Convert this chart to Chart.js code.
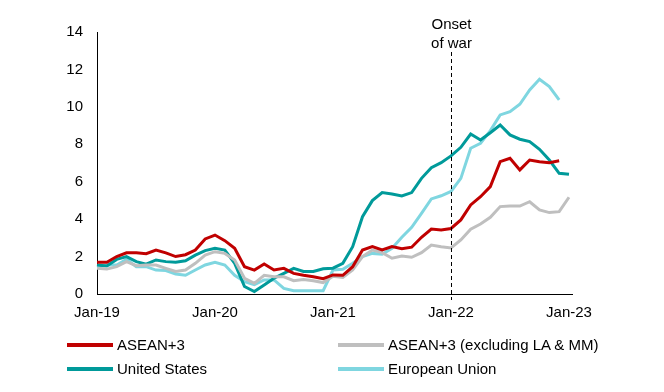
<!DOCTYPE html>
<html>
<head>
<meta charset="utf-8">
<script src="https://cdn.jsdelivr.net/npm/chart.js@4"></script>
<style>
  body { margin: 0; background: #fff; }
  #wrap { position: relative; width: 664px; height: 392px; font-family: "Liberation Sans", Arial, sans-serif; }
  .legend { position: absolute; font-size: 15px; line-height: 18px; height: 18px; color: #000; display: flex; align-items: center; white-space: nowrap; }
  .legend span.sw { display: inline-block; width: 46px; height: 4px; margin-right: 4px; }
</style>
</head>
<body>
<div id="wrap">
  <canvas id="chart" width="664" height="392"></canvas>
  <div class="legend" style="left:67px; top:336px"><span class="sw" style="background:#C00000"></span>ASEAN+3</div>
  <div class="legend" style="left:338px; top:336px"><span class="sw" style="background:#BFBFBF"></span>ASEAN+3 (excluding LA &amp; MM)</div>
  <div class="legend" style="left:67px; top:360px"><span class="sw" style="background:#009A9A"></span>United States</div>
  <div class="legend" style="left:338px; top:360px"><span class="sw" style="background:#7FD6E0"></span>European Union</div>
</div>
<script>
// monthly, Jan-19 .. Jan-23
const months = [];
const monthNames = ["Jan","Feb","Mar","Apr","May","Jun","Jul","Aug","Sep","Oct","Nov","Dec"];
for (let y = 19; y <= 23; y++) {
  for (let m = 0; m < 12; m++) {
    if (y === 23 && m > 0) break;
    months.push(monthNames[m] + "-" + y);
  }
}

const asean3 = [1.7, 1.7, 2.0, 2.2, 2.2, 2.15, 2.35, 2.2, 2.0, 2.1, 2.35, 2.94,
  3.15, 2.85, 2.44, 1.46, 1.28, 1.6, 1.28, 1.37, 1.1, 1.0, 0.92, 0.82,
  1.02, 1.0, 1.46, 2.35, 2.53, 2.35, 2.53, 2.42, 2.5, 3.03, 3.47, 3.42,
  3.5, 3.96, 4.76, 5.2, 5.74, 7.07, 7.25, 6.63, 7.16, 7.07, 7.02, 7.12, null];

const asean3ExLaMm = [1.37, 1.33, 1.46, 1.73, 1.51, 1.55, 1.55, 1.37, 1.2, 1.28, 1.64, 2.08,
  2.26, 2.17, 1.82, 0.84, 0.57, 1.0, 0.92, 0.92, 0.71, 0.78, 0.71, 0.61,
  0.95, 0.89, 1.28, 2.0, 2.35, 2.21, 1.91, 2.03, 1.96, 2.21, 2.62, 2.53,
  2.46, 2.89, 3.46, 3.74, 4.1, 4.67, 4.7, 4.7, 4.93, 4.49, 4.35, 4.4, 5.17];

const unitedStates = [1.55, 1.5, 1.85, 2.0, 1.73, 1.59, 1.82, 1.73, 1.7, 1.78, 2.08, 2.32,
  2.44, 2.35, 1.64, 0.4, 0.13, 0.48, 0.84, 1.1, 1.37, 1.2, 1.2, 1.35,
  1.38, 1.64, 2.53, 4.13, 4.99, 5.42, 5.34, 5.24, 5.42, 6.18, 6.75, 7.02,
  7.38, 7.84, 8.55, 8.23, 8.62, 9.03, 8.5, 8.27, 8.14, 7.73, 7.16, 6.45, 6.4];

const europeanUnion = [1.46, 1.55, 1.55, 1.85, 1.46, 1.46, 1.28, 1.25, 1.07, 1.0, 1.28, 1.55,
  1.69, 1.55, 1.0, 0.66, 0.5, 0.75, 0.75, 0.3, 0.18, 0.18, 0.18, 0.18,
  1.28, 1.32, 1.64, 2.0, 2.17, 2.12, 2.44, 3.03, 3.56, 4.31, 5.08, 5.25,
  5.48, 6.18, 7.79, 8.05, 8.73, 9.57, 9.74, 10.14, 10.9, 11.47, 11.08, 10.37, null];

const yTicks = [0, 2, 4, 6, 8, 10, 12, 14];
const warIndex = 36; // Jan-22 position on the chart
const warLabel = ["Onset", "of war"];

const FONT = "'Liberation Sans', Arial, sans-serif";

// dashed marker + label, drawn on top of the lines
const warLine = {
  id: "warLine",
  afterDatasetsDraw(chart) {
    const { ctx, scales } = chart;
    const x = Math.round(scales.x.getPixelForValue(warIndex)) + 0.5;
    const bottom = scales.y.getPixelForValue(0);
    ctx.save();
    ctx.strokeStyle = "#000";
    ctx.lineWidth = 1;
    ctx.setLineDash([4, 3]);
    ctx.beginPath();
    ctx.moveTo(x, 52);
    ctx.lineTo(x, bottom + 6);
    ctx.stroke();
    ctx.setLineDash([]);
    ctx.fillStyle = "#000";
    ctx.font = "15px " + FONT;
    ctx.textAlign = "center";
    ctx.textBaseline = "alphabetic";
    ctx.fillText(warLabel[0], x, 29);
    ctx.fillText(warLabel[1], x, 48);
    ctx.restore();
  }
};

// extend x axis line a little past the last point, as in the original
const axisTail = {
  id: "axisTail",
  afterDraw(chart) {
    const { ctx, chartArea } = chart;
    const y = chart.scales.y.getPixelForValue(0);
    ctx.save();
    ctx.strokeStyle = "#000";
    ctx.lineWidth = 1;
    ctx.beginPath();
    ctx.moveTo(chartArea.right, Math.round(y) + 0.5);
    ctx.lineTo(chartArea.right + 4, Math.round(y) + 0.5);
    ctx.stroke();
    ctx.restore();
  }
};

const mk = (label, data, color) => ({
  label, data, borderColor: color, backgroundColor: color,
  borderWidth: 3, pointRadius: 0, tension: 0, spanGaps: false
});

new Chart(document.getElementById("chart"), {
  type: "line",
  data: {
    labels: months,
    datasets: [
      mk("ASEAN+3", asean3, "#C00000"),
      mk("ASEAN+3 (excluding LA & MM)", asean3ExLaMm, "#BFBFBF"),
      mk("United States", unitedStates, "#009A9A"),
      mk("European Union", europeanUnion, "#7FD6E0")
    ]
  },
  options: {
    responsive: false,
    animation: false,
    layout: { padding: { left: 0, right: 95, top: 32, bottom: 68 } },
    plugins: { legend: { display: false }, tooltip: { enabled: false } },
    scales: {
      x: {
        offset: false,
        grid: { display: false, drawTicks: false },
        border: { display: true, color: "#000", width: 1 },
        ticks: {
          autoSkip: false, maxRotation: 0, padding: 10,
          color: "#000", font: { size: 15, family: FONT },
          callback: (v, i) => (i % 12 === 0 ? months[i] : null)
        },
        afterFit: (s) => { s.height = 30; }
      },
      y: {
        min: 0, max: 14,
        grid: { display: false, drawTicks: false },
        border: { display: true, color: "#000", width: 1 },
        afterBuildTicks: (s) => { s.ticks = yTicks.map(v => ({ value: v })); },
        ticks: { padding: 14, color: "#000", font: { size: 15, family: FONT } },
        afterFit: (s) => { s.width = 97; }
      }
    }
  },
  plugins: [warLine, axisTail]
});
</script>
</body>
</html>
